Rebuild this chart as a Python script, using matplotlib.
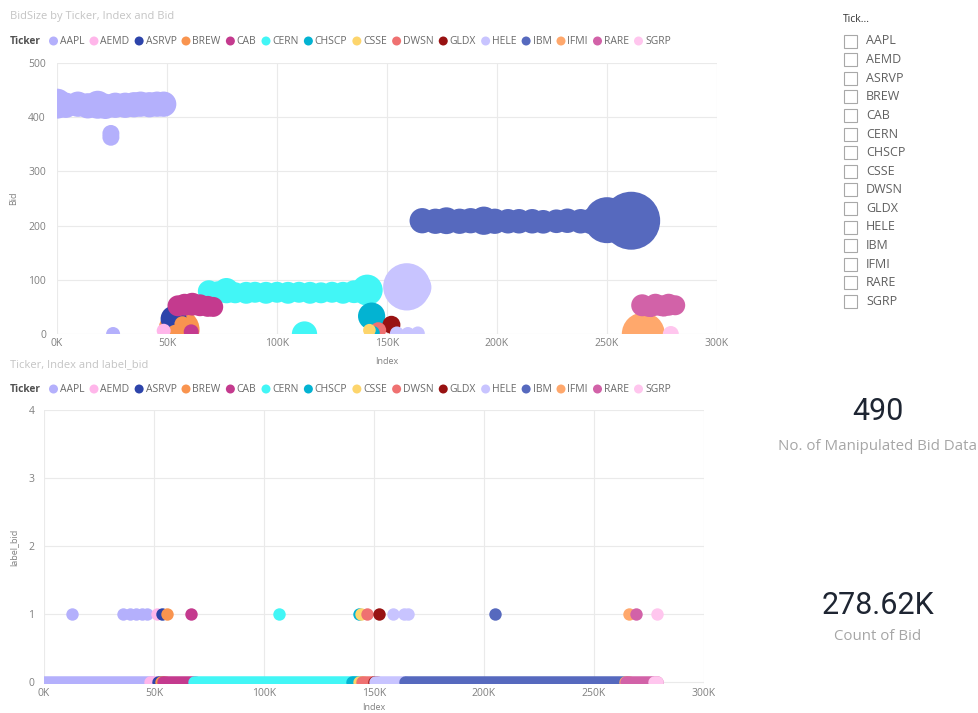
import matplotlib
matplotlib.use("Agg")
import matplotlib.pyplot as plt
import numpy as np
from matplotlib.patches import Rectangle, Circle
from matplotlib.ticker import FuncFormatter, MultipleLocator

W, H = 979, 713
plt.rcParams['font.family'] = ['Open Sans', 'DejaVu Sans']

TICKERS = ["AAPL", "AEMD", "ASRVP", "BREW", "CAB", "CERN", "CHSCP", "CSSE",
           "DWSN", "GLDX", "HELE", "IBM", "IFMI", "RARE", "SGRP"]
COLORS = ["#B4B0FC", "#FFB6EA", "#2D44AA", "#F9944F", "#C43A8E", "#42F6F6",
          "#03B3D2", "#FDD56C", "#EF7171", "#981212", "#C8C4FF", "#5669BE",
          "#FFA86C", "#D262A8", "#FFC6EE"]

# --- BidSize by Ticker, Index and Bid ---
aapl_index = [0, 4000, 9500, 14000, 18500, 22000, 26500, 31000, 35000, 38000, 42000, 45500, 48500,
              24500, 24500, 25500]
aapl_bid = [425, 422, 424, 421, 423, 420, 422, 422, 423, 424, 423, 424, 424, 370, 363, 0]
aapl_size = [225, 160, 160, 160, 196, 160, 160, 160, 160, 160, 160, 160, 160, 72, 72, 49]

aemd_index = [48500]
aemd_bid = [6]
aemd_size = [49]

asrvp_index = [53000]
asrvp_bid = [28]
asrvp_size = [169]

brew_index = [55500, 57000, 59000, 53500]
brew_bid = [8, 18, 12, 4]
brew_size = [420, 64, 81, 49]

cab_index = [55000, 58000, 61500, 65000, 68500, 71000, 61000]
cab_bid = [52, 54, 55, 53, 51, 50, 4]
cab_size = [110, 120, 130, 120, 110, 100, 56]

cern_index = [69000, 73000, 77000, 81000, 86000, 90000, 95000, 100000, 105000, 110000,
              115000, 120000, 125000, 130000, 135000, 139000, 141000, 112500]
cern_bid = [79, 77, 80, 76, 76, 77, 76, 77, 76, 77, 76, 76, 77, 76, 78, 80, 81, 0]
cern_size = [120, 120, 160, 110, 120, 110, 120, 110, 120, 110, 120, 110, 110, 120, 130, 140,
             240, 160]

chscp_index = [143000, 143500]
chscp_bid = [33, 2]
chscp_size = [185, 50]

csse_index = [142000]
csse_bid = [7]
csse_size = [40]

dwsn_index = [146000]
dwsn_bid = [7]
dwsn_size = [64]

gldx_index = [152000]
gldx_bid = [17]
gldx_size = [81]

hele_index = [159000, 156000, 163000, 154500, 159500, 164000]
hele_bid = [87, 88, 86, 1, 0, 1]
hele_size = [560, 250, 250, 49, 49, 49]

ibm_index = [166000, 172000, 177000, 183000, 188000, 194000, 199000, 205000, 210000, 216000,
             221000, 227000, 232000, 238000, 243000, 250000, 255000, 261000, 266000]
ibm_bid = [209, 208, 209, 208, 209, 209, 208, 208, 208, 208, 207, 208, 209, 208, 208, 210,
           210, 209, 208]
ibm_size = [160, 160, 180, 160, 160, 200, 160, 150, 150, 150, 140, 140, 150, 150, 169, 529,
            400, 841, 121]

ifmi_index = [266500, 267000]
ifmi_bid = [0, 0]
ifmi_size = [462, 121]

rare_index = [266000, 269000, 272000, 275000, 278000, 281000, 270000, 276000]
rare_bid = [53, 50, 54, 52, 54, 53, 46, 47]
rare_size = [121, 100, 121, 110, 121, 100, 64, 64]

sgrp_index = [279000]
sgrp_bid = [0]
sgrp_size = [64]

bubbles = {
    "AAPL": (aapl_index, aapl_bid, aapl_size),
    "AEMD": (aemd_index, aemd_bid, aemd_size),
    "ASRVP": (asrvp_index, asrvp_bid, asrvp_size),
    "BREW": (brew_index, brew_bid, brew_size),
    "CAB": (cab_index, cab_bid, cab_size),
    "CERN": (cern_index, cern_bid, cern_size),
    "CHSCP": (chscp_index, chscp_bid, chscp_size),
    "CSSE": (csse_index, csse_bid, csse_size),
    "DWSN": (dwsn_index, dwsn_bid, dwsn_size),
    "GLDX": (gldx_index, gldx_bid, gldx_size),
    "HELE": (hele_index, hele_bid, hele_size),
    "IBM": (ibm_index, ibm_bid, ibm_size),
    "IFMI": (ifmi_index, ifmi_bid, ifmi_size),
    "RARE": (rare_index, rare_bid, rare_size),
    "SGRP": (sgrp_index, sgrp_bid, sgrp_size),
}

# --- Ticker, Index and label_bid ---
# rows with label_bid == 0 cover one contiguous index range per ticker
band_start = [0, 48000, 52000, 53000, 54000, 68000, 140000, 143000, 144500, 150000,
              150500, 164000, 264000, 264500, 277500]
band_end = [49000, 52000, 53600, 55000, 68500, 141000, 143500, 145000, 150000, 151500,
            164000, 265000, 266000, 278500, 278600]
# rows with label_bid == 1
flagged = {
    "AAPL": [12700, 36000, 39000, 42000, 44500, 47000],
    "AEMD": [51400],
    "ASRVP": [53600],
    "BREW": [55800],
    "CAB": [67000],
    "CERN": [107000],
    "CHSCP": [143300],
    "CSSE": [144300],
    "DWSN": [147000],
    "GLDX": [152200],
    "HELE": [158500, 163500, 165500],
    "IBM": [205000],
    "IFMI": [265900],
    "RARE": [269000],
    "SGRP": [278500],
}

manipulated_count = 490
bid_count = "278.62K"


def px_rect(left, top, right, bottom):
    return [left / W, 1 - bottom / H, (right - left) / W, (bottom - top) / H]


def style_axes(ax, ypad):
    for s in ax.spines.values():
        s.set_visible(False)
    ax.grid(True, color="#EAEAEA", lw=0.8)
    ax.set_axisbelow(True)
    ax.tick_params(axis="both", length=0, labelsize=7.5, labelcolor="#808080")
    ax.tick_params(axis="y", pad=ypad)
    ax.tick_params(axis="x", pad=3)
    ax.set_xlim(0, 300000)
    ax.xaxis.set_major_locator(MultipleLocator(50000))
    ax.xaxis.set_major_formatter(FuncFormatter(lambda v, _: f"{v / 1000:.0f}K"))


fig = plt.figure(figsize=(W / 100, H / 100), dpi=100)

# bubble chart
ax1 = fig.add_axes(px_rect(57, 63, 717, 334))
style_axes(ax1, 8)
ax1.set_ylim(0, 500)
ax1.yaxis.set_major_locator(MultipleLocator(100))

xs, ys, ss, cs = [], [], [], []
for name, color in zip(TICKERS, COLORS):
    idx, bid, size = bubbles[name]
    xs += idx
    ys += bid
    ss += size
    cs += [color] * len(idx)
order = np.argsort(ss, kind="stable")[::-1]  # big bubbles behind small ones
ax1.scatter(np.array(xs)[order], np.array(ys)[order], s=np.array(ss)[order] * 2.07,
            c=np.array(cs)[order], linewidths=0, zorder=3)

# label_bid chart
ax2 = fig.add_axes(px_rect(44, 410, 704, 684))
style_axes(ax2, 7)
ax2.set_ylim(-2 / 68, 4)
ax2.yaxis.set_major_locator(MultipleLocator(1))
for name, color, x0, x1 in zip(TICKERS, COLORS, band_start, band_end):
    ax2.plot([x0, x1], [0, 0], color=color, lw=9, solid_capstyle="round", zorder=3)
for name, color in zip(TICKERS, COLORS):
    pts = flagged[name]
    ax2.scatter(pts, [1] * len(pts), s=80, color=color, linewidths=0, zorder=4)

# overlay in pixel coordinates for titles, legends, slicer and cards
ov = fig.add_axes([0, 0, 1, 1], zorder=10)
ov.set_xlim(0, W)
ov.set_ylim(H, 0)
ov.axis("off")
renderer = fig.canvas.get_renderer()

ov.text(10, 16, "BidSize by Ticker, Index and Bid", fontsize=8, color="#C4C4C4", va="center")
ov.text(10, 365, "Ticker, Index and label_bid", fontsize=8, color="#C4C4C4", va="center")
ov.text(14, 198, "Bid", fontsize=6.5, color="#808080", rotation=90, ha="center", va="center")
ov.text(387, 361, "Index", fontsize=6.5, color="#808080", ha="center", va="center")
ov.text(14, 547, "label_bid", fontsize=6.5, color="#808080", rotation=90, ha="center", va="center")
ov.text(374, 708, "Index", fontsize=6.5, color="#808080", ha="center", va="center")


def draw_legend(y):
    t = ov.text(10, y, "Ticker", fontsize=7.3, color="#505050", fontweight="bold", va="center")
    x = 10 + t.get_window_extent(renderer).width + 8
    for name, color in zip(TICKERS, COLORS):
        ov.add_patch(Circle((x + 4.5, y), 4.5, color=color, lw=0))
        t = ov.text(x + 11, y, name, fontsize=7.5, color="#6A6A6A", va="center")
        x = x + 11 + t.get_window_extent(renderer).width + 5


draw_legend(41)
draw_legend(389)

# ticker slicer
ov.text(843, 20, "Tick...", fontsize=7.5, color="#333333", va="center")
for i, name in enumerate(TICKERS):
    y = 41 + i * 18.6
    ov.add_patch(Rectangle((844, y - 6.5), 13, 13, facecolor="white", edgecolor="#A8A8A8", lw=0.8))
    ov.text(866, y, name, fontsize=9, color="#606060", va="center")

# cards
ov.text(878, 412, f"{manipulated_count}", fontsize=22, family="Roboto", color="#1E2532",
        ha="center", va="center")
ov.text(878, 447, "No. of Manipulated Bid Data", fontsize=10.8, color="#A6A6A6",
        ha="center", va="center")
ov.text(878, 605, bid_count, fontsize=22, family="Roboto", color="#1E2532",
        ha="center", va="center")
ov.text(878, 637, "Count of Bid", fontsize=10.8, color="#A6A6A6", ha="center", va="center")

fig.savefig("out.png", dpi=100)
